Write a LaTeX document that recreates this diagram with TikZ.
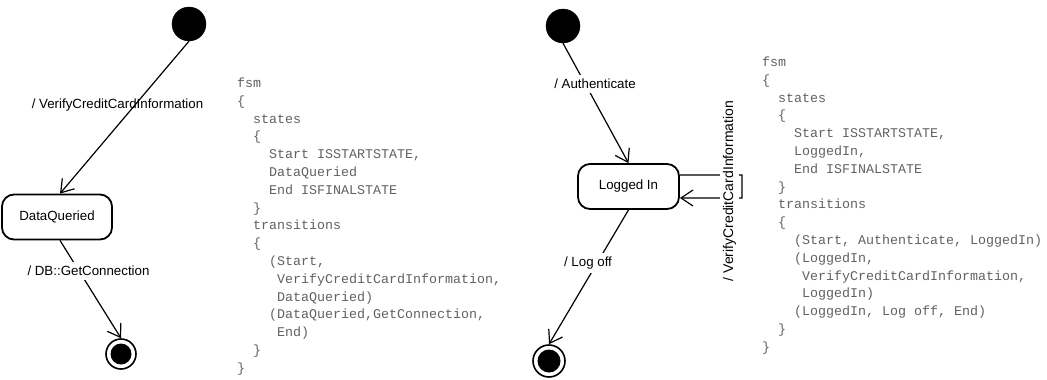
\documentclass[tikz,border=0pt]{standalone}
\usepackage{fontspec}
\setmainfont{Liberation Sans}
\newfontfamily\codefont{Liberation Mono}
\usetikzlibrary{arrows.meta,calc}
\tikzset{
  conn/.style={line width=1.2bp, -{Straight Barb[length=12bp,width=16bp,line width=1.2bp]}},
  plain/.style={line width=1.2bp},
  startdot/.style={circle, fill=black, draw=black, minimum size=34bp, inner sep=0pt},
  enddot/.style={circle, draw=black, line width=1.6bp, inner sep=0pt},
  statebox/.style={draw=black, line width=1.8bp, rounded corners=12bp, inner sep=0pt,
    font=\fontsize{13.3bp}{16bp}\selectfont},
  lbl/.style={font=\fontsize{13.3bp}{16bp}\selectfont, inner sep=2bp},
  lblw/.style={lbl, fill=white, inner xsep=2bp, inner ysep=4bp},
  code/.style={font=\codefont\fontsize{13.33bp}{17.8bp}\selectfont, text=black!62, inner sep=0pt, anchor=base west}
}
\begin{document}
\begin{tikzpicture}[x=1bp, y=-1bp]
\useasboundingbox (0,0) rectangle (1047,379);

% ---------- left diagram ----------
\node[startdot] (sL) at (189,24) {};
\node[statebox, minimum width=110bp, minimum height=45bp] (dq) at (57,217) {DataQueried};
\node[enddot, minimum size=30bp] (eL) at (121,354) {};
\fill (eL.center) circle (10.5bp);

\draw[conn] (sL.south) -- ($(dq.north)+(3,0)$);
\draw[conn] ($(dq.south)+(3,0)$) -- (eL.north);

\node[lbl] (lv) at (117.5,105) {/ VerifyCreditCardInformation};
\node[lblw] (lg) at (88.5,271) {/ DB::GetConnection};

% ---------- left code ----------
\foreach \c/\t [count=\i] in {
  0/fsm, 0/\{, 2/states, 2/\{, 4/{Start ISSTARTSTATE,}, 4/DataQueried,
  4/End ISFINALSTATE, 2/\}, 2/transitions, 2/\{, 4/{(Start,},
  5/{VerifyCreditCardInformation,}, 5/{DataQueried)},
  4/{(DataQueried,GetConnection,}, 5/{End)}, 2/\}, 0/\}}
  \node[code] (cL\i) at (237+8*\c, 87.5+17.8*\i-17.8) {\t};

% ---------- right diagram ----------
\node[startdot] (sR) at (563,26) {};
\node[statebox, minimum width=101bp, minimum height=45bp] (li) at (628.5,186.5) {Logged In};
\node[enddot, minimum size=32bp] (eR) at (549,361) {};
\fill (eR.center) circle (11.5bp);

\draw[conn] (sR.south) -- (li.north);
\draw[conn] (li.south) -- (eR.north);
\draw[conn] ($(li.east)+(0,-11.5)$) -- ++(62,0) -- ++(0,23) -- ($(li.east)+(0,11.5)$);

\node[lblw] (la) at (595,84) {/ Authenticate};
\node[lblw] (llo) at (588,263) {/ Log off};
\node[lbl, fill=white, inner sep=3bp, rotate=90, font=\fontsize{14bp}{16bp}\selectfont] (lvr) at (729.5,191) {/ VerifyCreditCardInformation};

% ---------- right code ----------
\foreach \c/\t [count=\i] in {
  0/fsm, 0/\{, 2/states, 2/\{, 4/{Start ISSTARTSTATE,}, 4/{LoggedIn,},
  4/End ISFINALSTATE, 2/\}, 2/transitions, 2/\{,
  4/{(Start, Authenticate, LoggedIn)}, 4/{(LoggedIn,},
  5/{VerifyCreditCardInformation,}, 5/{LoggedIn)},
  4/{(LoggedIn, Log off, End)}, 2/\}, 0/\}}
  \node[code] (cR\i) at (762+8*\c, 66.5+17.8*\i-17.8) {\t};
\end{tikzpicture}
\end{document}
